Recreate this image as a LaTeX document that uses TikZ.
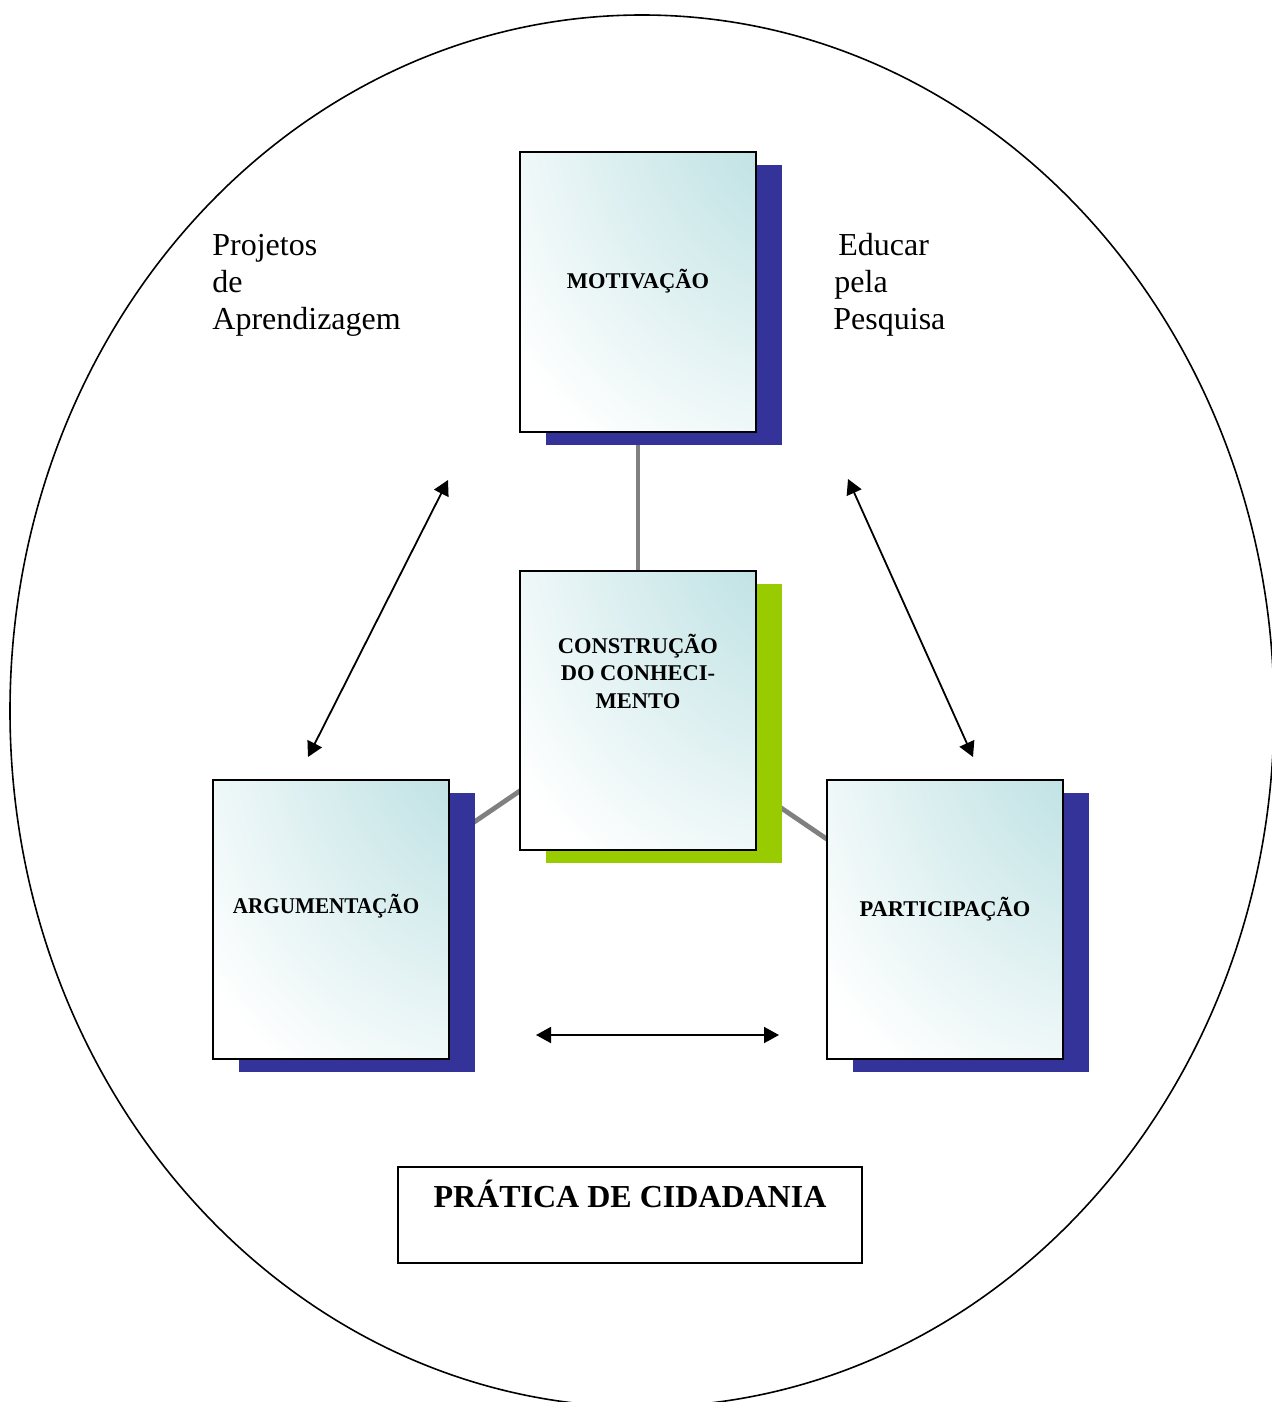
\documentclass[tikz,border=0pt]{standalone}
\usepackage{fontspec}
\setmainfont{Liberation Serif}
\usetikzlibrary{arrows.meta,shadows}
\definecolor{tealc}{HTML}{B9DFE1}
\definecolor{shblue}{HTML}{333399}
\definecolor{shgreen}{HTML}{99CC00}
\definecolor{linkgray}{HTML}{808080}
\pgfdeclarelayer{bg}
\pgfsetlayers{bg,main}
\pgfdeclareradialshading{boxshade}{\pgfpoint{50bp}{50bp}}{color(0bp)=(tealc); color(20bp)=(tealc); color(72bp)=(white); color(200bp)=(white)}
\begin{document}
\begin{tikzpicture}[x=0.5pt,y=-0.5pt,
  card/.style={draw=black, line width=1pt, shade, shading=boxshade,
    minimum width=118pt, inner xsep=0pt, inner ysep=0pt, align=center,
    font=\fontsize{11.25pt}{13.75pt}\selectfont\bfseries, anchor=base},
  blueshadow/.style={general shadow={fill=shblue, shadow xshift=13pt, shadow yshift=-6.5pt}},
  greenshadow/.style={general shadow={fill=shgreen, shadow xshift=13pt, shadow yshift=-6.5pt}},
  link/.style={draw=linkgray, line width=2.4pt},
  dbl/.style={draw=black, line width=0.9pt, {Triangle[length=7.5pt,width=8pt]}-{Triangle[length=7.5pt,width=8pt]}},
  freetext/.style={font=\fontsize{16pt}{18.5pt}\selectfont, inner sep=0pt, anchor=base west},
  outline/.style={draw=black, line width=0.8pt}
]
\useasboundingbox (0,0) rectangle (1272,1402);
\begin{pgfonlayer}{bg}
  \fill[white] (0,0) rectangle (1272,1402);
\end{pgfonlayer}
\clip (0,0) rectangle (1272,1402);

% outer ellipse
\draw[outline] (642,711) ellipse [x radius=316pt, y radius=348pt];

% free texts
\node[freetext] (p1) at (212,255) {Projetos};
\node[freetext] (p2) at (212,292) {de};
\node[freetext] (p3) at (212,329) {Aprendizagem};
\node[freetext] (e1) at (838,255) {Educar};
\node[freetext] (e2) at (834,292) {pela};
\node[freetext] (e3) at (833,329) {Pesquisa};

% cards
\node[card, blueshadow, text height=68pt, text depth=72pt] (mot) at (638,288) {MOTIVAÇÃO};
\node[card, greenshadow, text height=68.5pt, text depth=71pt] (con) at (638,708) {CONSTRUÇÃO\\DO CONHECI-\\MENTO};
\node[card, blueshadow, text height=66.5pt, text depth=73pt] (arg) at (331,913) {\scalebox{0.94}[1]{ARGUMENTAÇÃO}\hspace*{5pt}};
\node[card, blueshadow, text height=68pt, text depth=71.5pt] (part) at (945,916) {PARTICIPAÇÃO};

% bottom box
\node[draw=black, line width=1pt, minimum width=232pt, inner xsep=0pt, inner ysep=0pt,
  text height=20pt, text depth=28pt, font=\fontsize{16pt}{19pt}\selectfont\bfseries,
  anchor=base] (prat) at (630,1207) {PRÁTICA DE CIDADANIA};

% gray links behind the cards
\begin{pgfonlayer}{bg}
  \draw[link] (mot.center) -- (con.center);
  \draw[link] (arg.center) -- (con.center);
  \draw[link] (part.center) -- (con.center);
\end{pgfonlayer}

% double arrows
\coordinate (a1s) at (448,480);
\coordinate (a1e) at (308,757);
\coordinate (a2s) at (848,479);
\coordinate (a2e) at (973,757);
\coordinate (a3s) at (536,1035);
\coordinate (a3e) at (779,1035);
\draw[dbl] (a1s) -- (a1e);
\draw[dbl] (a2s) -- (a2e);
\draw[dbl] (a3s) -- (a3e);
\end{tikzpicture}
\end{document}
